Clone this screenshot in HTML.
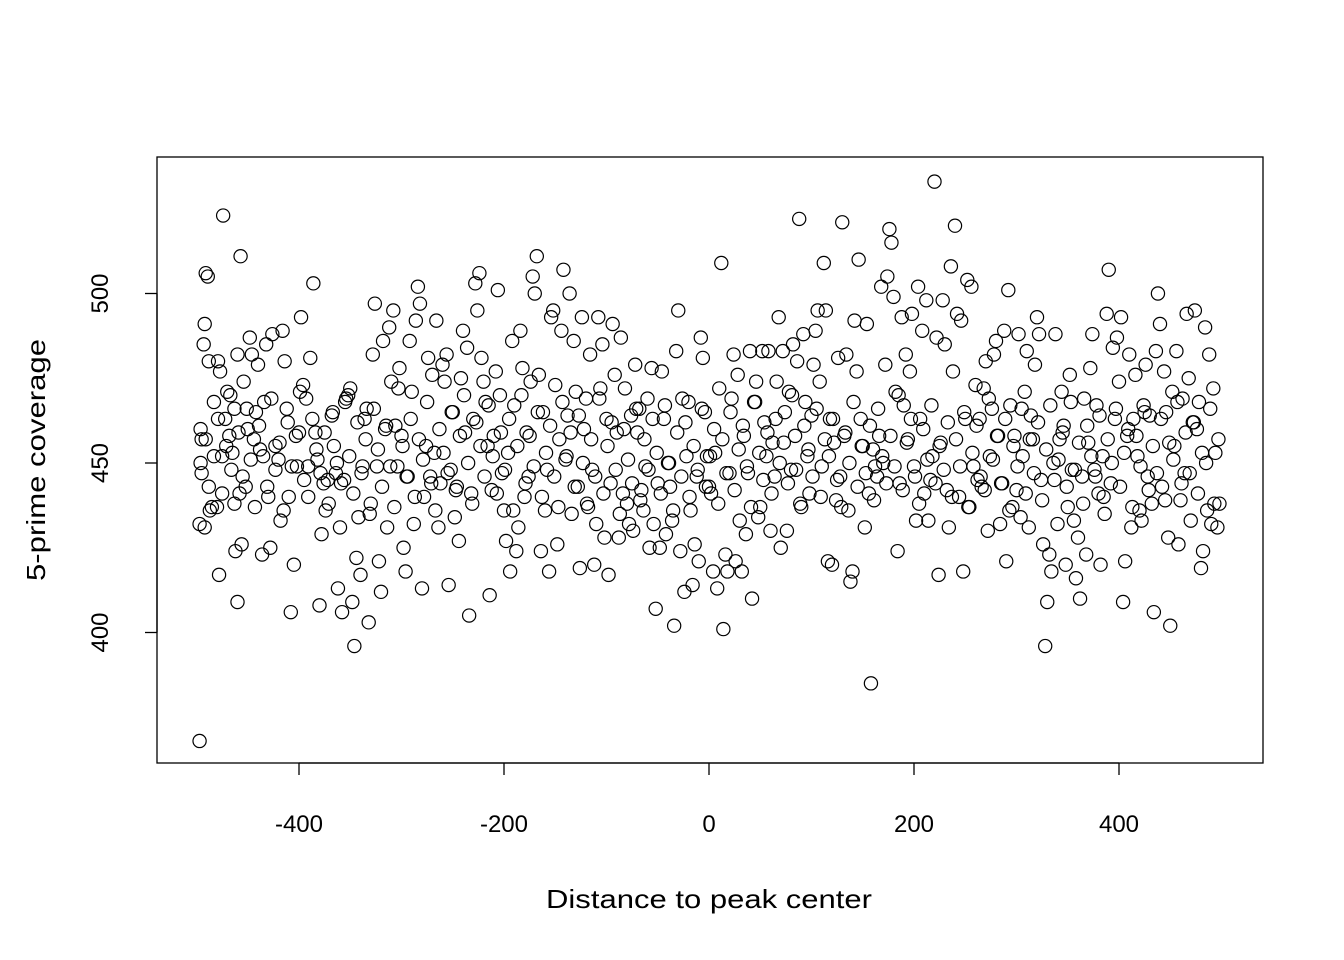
<!DOCTYPE html>
<html><head><meta charset="utf-8"><style>
html,body{margin:0;padding:0;background:#fff;}
svg{display:block;font-family:"Liberation Sans",Arial,sans-serif;}
</style></head><body>
<svg id="chart" width="1344" height="960" viewBox="0 0 1344 960">
<rect x="0" y="0" width="1344" height="960" fill="#fff"/>
<rect x="157" y="157" width="1106" height="606" fill="none" stroke="#000" stroke-width="1.3"/>
<g id="points"></g>
<g id="axes"></g>
<text x="709" y="908" font-size="26" text-anchor="middle" textLength="326" lengthAdjust="spacingAndGlyphs">Distance to peak center</text>
<text transform="translate(45,460) rotate(-90)" font-size="26" text-anchor="middle" textLength="242" lengthAdjust="spacingAndGlyphs">5-prime coverage</text>
</svg>
<script>
const xTicks = [-400,-200,0,200,400];
const yTicks = [400,450,500];
const xs = [-497,-474,-457,-491,-489,-492,-493,-488,-479,-477,-483,-496,-495,-496,-497,-492,-488,-485,-480,-478,-475,-472,-470,-468,-466,-465,-463,-460,-462,-460,-458,-456,-454,-452,-450,-448,-446,-444,-442,-440,-438,-436,-434,-432,-430,-428,-426,-423,-420,-418,-416,-414,-412,-410,-408,-405,-402,-400,-398,-396,-393,-391,-389,-386,-384,-382,-380,-378,-376,-374,-372,-368,-366,-364,-362,-360,-358,-356,-354,-352,-350,-348,-346,-344,-342,-340,-338,-336,-334,-332,-330,-328,-326,-324,-322,-320,-318,-316,-314,-312,-310,-308,-306,-304,-302,-300,-298,-296,-294,-292,-290,-288,-286,-284,-282,-280,-278,-276,-274,-272,-270,-268,-266,-264,-262,-260,-258,-256,-254,-252,-250,-248,-246,-244,-242,-240,-238,-236,-234,-232,-230,-228,-226,-224,-222,-220,-218,-216,-214,-212,-210,-208,-206,-204,-202,-200,-198,-196,-194,-192,-190,-188,-186,-184,-182,-180,-178,-176,-174,-172,-170,-168,-166,-164,-162,-160,-158,-156,-154,-152,-150,-148,-146,-144,-142,-140,-138,-136,-134,-132,-130,-128,-126,-124,-122,-120,-118,-116,-114,-112,-110,-108,-106,-104,-102,-100,-98,-96,-94,-92,-90,-88,-86,-84,-82,-80,-78,-76,-74,-72,-70,-68,-66,-64,-62,-60,-58,-56,-54,-52,-50,-48,-46,-44,-42,-40,-38,-36,-34,-32,-30,-28,-26,-24,-22,-20,-18,-16,-14,-12,-10,-8,-6,-4,-2,0,2,4,6,8,10,12,14,16,18,20,22,24,26,28,30,32,34,36,38,40,42,44,46,48,50,52,54,56,58,60,62,64,66,68,70,72,74,76,78,80,82,84,86,88,90,92,94,96,98,100,102,104,106,108,110,112,114,116,118,120,122,124,126,128,130,132,134,136,138,140,142,144,146,148,150,152,154,156,158,160,162,164,166,168,170,172,174,176,178,180,182,184,186,188,190,192,194,196,198,200,202,204,206,208,210,212,214,216,218,220,222,224,226,228,230,232,234,236,238,240,242,244,246,248,250,252,254,256,258,260,262,264,266,268,270,272,274,276,278,280,282,284,286,288,290,292,294,296,298,300,302,304,306,308,310,312,314,316,318,320,322,324,326,328,330,332,334,336,338,340,342,344,346,348,350,352,354,356,358,360,362,364,366,368,370,372,374,376,378,380,382,384,386,388,390,392,394,396,398,400,402,404,406,408,410,412,414,416,418,420,422,424,426,428,430,432,434,436,438,440,442,444,446,448,450,452,454,456,458,460,462,464,466,468,470,472,474,476,478,480,482,484,486,488,490,492,494,496,498];
const ys = [368,523,511,506,505,491,485,480,480,477,468,460,457,450,432,431,443,437,437,417,452,463,471,458,448,453,466,482,424,409,441,426,474,443,460,487,482,457,465,479,454,423,468,485,440,425,488,455,451,433,489,480,466,440,406,420,449,459,493,473,469,449,481,503,459,451,408,429,444,436,445,464,455,447,413,431,406,445,469,470,472,409,396,422,434,417,449,463,466,403,438,482,497,449,421,412,486,460,431,490,474,495,461,449,478,458,425,418,446,486,471,432,492,502,497,413,440,455,481,446,476,453,492,431,444,479,474,482,414,448,465,434,443,427,475,489,459,484,405,441,463,503,495,506,481,474,468,455,411,442,458,477,501,470,447,436,427,453,418,486,467,424,431,489,478,440,459,446,474,505,500,511,476,424,465,436,448,418,493,495,473,426,457,489,507,451,464,500,435,486,471,443,419,493,460,469,437,482,448,420,432,493,472,485,428,463,417,444,491,476,459,428,487,441,472,438,432,464,430,479,459,466,442,436,449,469,425,478,432,407,444,425,477,463,429,450,443,433,402,483,495,424,469,412,452,468,436,414,426,446,421,487,481,465,452,443,441,418,453,413,472,509,401,423,418,447,469,482,421,476,433,418,458,429,447,483,410,468,474,434,437,483,462,452,483,430,456,446,474,493,425,483,465,430,471,448,485,458,480,522,437,488,468,452,441,464,479,489,495,474,449,509,495,421,463,420,456,439,481,446,521,458,482,436,415,418,492,477,510,463,455,431,491,441,385,454,449,446,458,502,450,479,505,519,515,499,471,424,444,493,467,482,457,477,494,449,433,502,463,489,441,498,433,445,452,533,487,417,456,498,485,442,431,508,477,520,494,440,492,418,463,504,437,502,449,473,445,463,443,472,480,430,452,466,482,486,458,432,444,489,421,501,467,437,458,442,488,434,452,471,483,431,464,457,479,493,488,445,426,396,409,423,418,450,488,432,457,471,461,420,437,476,448,433,416,428,410,446,469,423,456,478,488,448,467,441,420,452,435,494,507,444,484,463,487,474,493,409,421,458,482,431,463,476,452,436,433,467,479,446,464,438,406,483,500,491,443,477,465,428,402,471,455,483,426,439,469,447,494,475,433,462,495,460,468,419,424,490,436,482,432,472,453,431,438];
const xs2 = [-495,-491,-487,-483,-479,-475,-471,-467,-463,-459,-455,-451,-447,-443,-439,-435,-431,-427,-423,-419,-415,-411,-407,-403,-399,-395,-391,-387,-383,-379,-375,-371,-367,-363,-359,-355,-351,-347,-343,-339,-335,-331,-327,-323,-319,-315,-311,-307,-303,-299,-295,-291,-287,-283,-279,-275,-271,-267,-263,-259,-255,-251,-247,-243,-239,-235,-231,-227,-223,-219,-215,-211,-207,-203,-199,-195,-191,-187,-183,-179,-175,-171,-167,-163,-159,-155,-151,-147,-143,-139,-135,-131,-127,-123,-119,-115,-111,-107,-103,-99,-95,-91,-87,-83,-79,-75,-71,-67,-63,-59,-55,-51,-47,-43,-39,-35,-31,-27,-23,-19,-15,-11,-7,-3,1,5,9,13,17,21,25,29,33,37,41,45,49,53,57,61,65,69,73,77,81,85,89,93,97,101,105,109,113,117,121,125,129,133,137,141,145,149,153,157,161,165,169,173,177,181,185,189,193,197,201,205,209,213,217,221,225,229,233,237,241,245,249,253,257,261,265,269,273,277,281,285,289,293,297,301,305,309,313,317,321,325,329,333,337,341,345,349,353,357,361,365,369,373,377,381,385,389,393,397,401,405,409,413,417,421,425,429,433,437,441,445,449,453,457,461,465,469,473,477,481,485,489,493,497];
const ys2 = [447,457,436,452,463,441,455,470,438,459,446,466,451,437,461,452,443,469,448,456,436,462,449,458,471,445,440,463,454,447,459,438,465,450,444,468,452,441,462,447,457,435,466,454,443,461,449,437,472,455,446,463,440,457,451,468,444,436,460,453,447,465,442,458,470,450,438,462,455,446,467,452,441,459,448,463,436,455,470,444,458,449,465,440,453,461,446,437,468,452,459,443,464,450,438,457,446,469,441,455,462,448,435,460,451,444,466,439,457,448,463,453,441,467,450,436,459,446,462,440,455,448,466,443,452,460,438,457,447,465,442,454,461,449,437,468,453,445,459,441,463,450,456,444,470,448,438,461,454,446,466,440,457,452,463,445,437,459,450,468,443,455,447,461,439,466,452,444,458,449,470,442,456,463,446,438,460,451,467,444,455,448,462,440,457,449,465,437,453,461,446,442,469,451,458,444,463,436,455,449,466,441,457,447,462,439,454,467,445,451,459,443,468,448,456,438,461,452,446,464,440,457,450,466,443,453,460,437,458,449,465,442,455,447,463,439,456,451,468,444,459,447,462,441,453,450,466,438,457,452];

const NS = "http://www.w3.org/2000/svg";
const L=157,R=1263,T=157,B=763;
function xScale(v){return 709 + (v/400)*410;}
function yScale(v){return 463 - (v-450)*(339/100);}
const pts = document.getElementById('points');
function addPoint(xv,yv){
  const c=document.createElementNS(NS,'circle');
  c.setAttribute('cx',xScale(xv));c.setAttribute('cy',yScale(yv));
  c.setAttribute('r',6.6);c.setAttribute('fill','none');c.setAttribute('stroke','#000');c.setAttribute('stroke-width','1.2');
  
  
  pts.appendChild(c);
}
for(let i=0;i<xs.length;i++) addPoint(xs[i],ys[i]);
for(let i=0;i<xs2.length;i++) addPoint(xs2[i],ys2[i]);
const ax=document.getElementById('axes');
function line(x1,y1,x2,y2){const l=document.createElementNS(NS,'line');l.setAttribute('x1',x1);l.setAttribute('y1',y1);l.setAttribute('x2',x2);l.setAttribute('y2',y2);l.setAttribute('stroke','#000');l.setAttribute('stroke-width','1.3');ax.appendChild(l);return l;}
const xl=line(xScale(xTicks[0]),B,xScale(xTicks[xTicks.length-1]),B);


xTicks.forEach(v=>{
  const x=xScale(v);
  const tk=line(x,B,x,B+12);
  
  
  const t=document.createElementNS(NS,'text');
  t.setAttribute('x',x);t.setAttribute('y',832);t.setAttribute('font-size','24');t.setAttribute('text-anchor','middle');
  t.textContent=v;
  
  
  ax.appendChild(t);
});
const yl=line(L,yScale(yTicks[0]),L,yScale(yTicks[yTicks.length-1]));


yTicks.forEach(v=>{
  const y=yScale(v);
  const tk=line(L-12,y,L,y);
  
  
  const t=document.createElementNS(NS,'text');
  t.setAttribute('transform','translate(108,'+y+') rotate(-90)');t.setAttribute('font-size','24');t.setAttribute('text-anchor','middle');
  t.textContent=v;
  
  
  ax.appendChild(t);
});
</script>
</body></html>
